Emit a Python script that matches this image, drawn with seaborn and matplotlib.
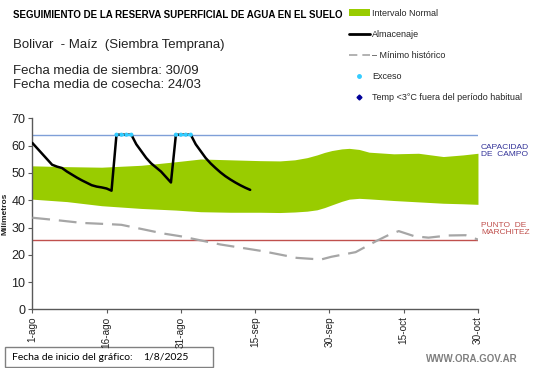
import numpy as np
import pandas as pd
import matplotlib
matplotlib.use("Agg")
import matplotlib.pyplot as plt
import seaborn as sns
from matplotlib.lines import Line2D
from matplotlib.patches import Patch, Rectangle

# ---------------- data ----------------
tick_days = [0, 15, 30, 45, 60, 75, 90]
tick_labels = ["1-ago", "16-ago", "31-ago", "15-sep", "30-sep", "15-oct", "30-oct"]

band_days = [0, 7, 14, 22, 29, 34, 40, 46, 50, 53, 55.5, 57.5, 59, 60.5, 62.5, 64, 66, 68, 73, 78, 83, 87, 90]
band_top = [52.6, 52.3, 52.1, 52.8, 54.1, 55.1, 54.8, 54.5, 54.4, 54.8, 55.6, 56.6, 57.5, 58.2, 58.8, 59.0, 58.6, 57.6, 57.0, 57.2, 56.0, 56.6, 57.2]
band_bottom = [40.4, 39.5, 38.0, 37.0, 36.4, 35.8, 35.6, 35.6, 35.5, 35.7, 36.0, 36.5, 37.3, 38.3, 39.6, 40.4, 40.7, 40.5, 39.9, 39.4, 38.9, 38.7, 38.5]

alm_days = list(range(45))
alm_values = [61.0, 59.0, 57.0, 55.0, 53.0, 52.3, 51.8, 50.5, 49.4, 48.3,
              47.3, 46.4, 45.5, 45.0, 44.7, 44.3, 43.5, 64.0, 64.0, 64.0,
              64.0, 60.5, 58.0, 55.5, 53.5, 52.0, 50.5, 48.5, 46.5, 64.0,
              64.0, 64.0, 64.0, 60.5, 58.0, 55.5, 53.5, 51.8, 50.2, 48.8,
              47.6, 46.5, 45.5, 44.6, 43.8]

min_days = [0, 5, 10, 16, 18, 22, 26.5, 30, 38, 46.4, 53.4, 58.3, 60.4, 65.3, 69.4, 72.2, 74, 77.2, 80, 84, 87.5, 90]
min_values = [33.6, 32.7, 31.7, 31.2, 31.0, 29.5, 27.8, 26.8, 23.8, 21.4, 18.9, 18.3, 19.3, 21.0, 25.0, 27.5, 28.7, 26.8, 26.3, 27.1, 27.2, 25.6]

exceso_days = [17, 18, 19, 20, 29, 30, 31, 32]
exceso_values = [64, 64, 64, 64, 64, 64, 64, 64]

capacidad_campo = 64
punto_marchitez = 25.3

# ---------------- figure ----------------
sns.set_theme(style="white")
plt.rcParams['font.family'] = ['Liberation Sans', 'DejaVu Sans']

fig = plt.figure(figsize=(5.41, 3.68), dpi=100)
ax = fig.add_axes([0.0597, 0.159, 0.8238, 0.5195])

green = "#99CC00"
ax.fill_between(band_days, band_bottom, band_top, color=green, linewidth=0, zorder=1)

ax.axhline(capacidad_campo, color="#7F9FD8", linewidth=1.0, zorder=2)
ax.axhline(punto_marchitez, color="#C0504D", linewidth=1.0, zorder=2)

df_min = pd.DataFrame({"day": min_days, "val": min_values})
sns.lineplot(data=df_min, x="day", y="val", ax=ax, color="#A6A6A6", linewidth=1.6,
             zorder=3)
ax.lines[-1].set_dashes([8, 4])

df_alm = pd.DataFrame({"day": alm_days, "val": alm_values})
sns.lineplot(data=df_alm, x="day", y="val", ax=ax, color="black", linewidth=1.8, zorder=4)

df_exc = pd.DataFrame({"day": exceso_days, "val": exceso_values})
for grp in [df_exc.iloc[:4], df_exc.iloc[4:]]:
    ax.plot(grp["day"], grp["val"], color="#33CCFF", linestyle=":", linewidth=1.6, zorder=5)
sns.scatterplot(data=df_exc, x="day", y="val", ax=ax, color="#33CCFF", s=9,
                edgecolor="none", zorder=6)

ax.set_xlim(0, 90)
ax.set_ylim(0, 70)
ax.set_xticks(tick_days)
ax.set_xticklabels(tick_labels, rotation=90, fontsize=7.2, color="#222222")
ax.set_yticks(range(0, 71, 10))
ax.set_yticklabels([str(v) for v in range(0, 71, 10)], fontsize=9, color="#222222")
ax.set_xlabel("")
ax.set_ylabel("Milímetros", fontsize=6, fontweight="bold", labelpad=2, color="#222222")
ax.tick_params(axis="both", direction="out", length=3, width=0.8, color="#595959", pad=2,
               bottom=True, left=True)
for s in ["top", "right"]:
    ax.spines[s].set_visible(False)
for s in ["left", "bottom"]:
    ax.spines[s].set_color("#595959")
    ax.spines[s].set_linewidth(1.0)

# side labels
fig.text(481/541, 1 - 151/368, "CAPACIDAD\nDE  CAMPO", fontsize=6, color="#333399",
         va="center", ha="left", linespacing=1.1)
fig.text(481/541, 1 - 229/368, "PUNTO  DE\nMARCHITEZ", fontsize=6, color="#C0504D",
         va="center", ha="left", linespacing=1.1)

# header texts
fig.text(13/541, 1 - 15/368, "SEGUIMIENTO DE LA RESERVA SUPERFICIAL DE AGUA EN EL SUELO",
         fontsize=7, fontweight="bold", color="black", va="center")
fig.text(13/541, 1 - 45/368, "Bolivar  - Maíz  (Siembra Temprana)", fontsize=9.5,
         color="#222222", va="center")
fig.text(13/541, 1 - 71/368, "Fecha media de siembra: 30/09", fontsize=9.5,
         color="#222222", va="center")
fig.text(13/541, 1 - 85/368, "Fecha media de cosecha: 24/03", fontsize=9.5,
         color="#222222", va="center")

# legend
handles = [
    Patch(facecolor=green, edgecolor="none"),
    Line2D([0], [0], color="black", linewidth=2),
    Line2D([0], [0], color="#A6A6A6", linewidth=1.2, dashes=[5, 3]),
    Line2D([0], [0], color="#33CCFF", marker="o", markersize=2.5, linestyle="none"),
    Line2D([0], [0], color="#000099", marker="D", markersize=2.5, linestyle="none"),
]
labels = ["Intervalo Normal", "Almacenaje", "– Mínimo histórico", "Exceso",
          "Temp <3°C fuera del período habitual"]
fig.legend(handles, labels, loc="upper left", bbox_to_anchor=(345/541, 1 - 5/368),
           frameon=False, fontsize=6.5, handlelength=2.4, handletextpad=0.2,
           labelspacing=1.35, borderaxespad=0)

# bottom box
fig.patches.append(Rectangle((5/541, 1 - 367/368), 208/541, 20/368,
                             transform=fig.transFigure, facecolor="white",
                             edgecolor="#808080", linewidth=1.0, zorder=-1))
fig.text(12/541, 1 - 357/368, "Fecha de inicio del gráfico:", fontsize=7.5,
         family=["Lato", "DejaVu Sans"], color="black", va="center")
fig.text(143/541, 1 - 357/368, "1/8/2025", fontsize=7.5,
         family=["Lato", "DejaVu Sans"], color="black", va="center")
fig.text(518/541, 1 - 359/368, "WWW.ORA.GOV.AR", fontsize=7, fontweight="bold",
         color="#7F7F7F", ha="right", va="center")

fig.savefig("out.png", dpi=100)
